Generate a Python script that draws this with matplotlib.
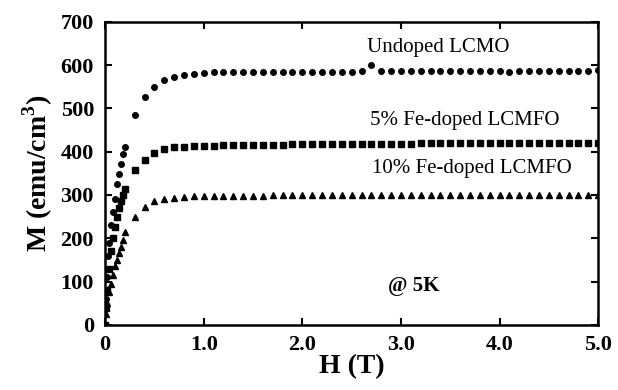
import numpy as np
import matplotlib
matplotlib.use("Agg")
import matplotlib.pyplot as plt

plt.rcParams['font.family'] = ['Liberation Serif', 'DejaVu Serif']

# field grid (T)
H_low_undoped = [0, 0.01, 0.02, 0.03, 0.04, 0.06, 0.08, 0.10, 0.12, 0.14, 0.16, 0.18, 0.20]
H_low = [0, 0.01, 0.02, 0.04, 0.06, 0.08, 0.10, 0.12, 0.14, 0.16, 0.18, 0.20]
H_high = [round(0.3 + 0.1 * i, 1) for i in range(48)]

# magnetisation (emu/cm^3)
M_low_undoped = [0, 60, 110, 160, 190, 230, 260, 290, 326, 349, 372, 395, 411]
M_high_undoped = [485, 526, 550, 566, 573, 577, 580, 582, 583, 583,
                  584, 584, 584, 585, 585, 585, 585, 585, 585, 585,
                  585, 585, 585, 586, 600, 586, 586, 586, 586, 586,
                  586, 586, 586, 586, 586, 586, 586, 586, 583, 586,
                  587, 587, 587, 587, 587, 587, 587, 588]

M_low_5 = [0, 40, 80, 130, 170, 200, 225, 250, 270, 285, 300, 315]
M_high_5 = [357, 381, 398, 406, 410, 412, 413, 414, 414, 415,
            415, 415, 416, 416, 416, 416, 417, 417, 417, 417,
            417, 418, 418, 418, 418, 418, 418, 418, 418, 419,
            419, 419, 419, 419, 419, 419, 419, 420, 420, 420,
            420, 420, 420, 420, 420, 420, 420, 420]

M_low_10 = [0, 25, 50, 75, 95, 115, 135, 150, 165, 180, 197, 215]
M_high_10 = [250, 273, 285, 291, 294, 296, 297, 297, 298, 298,
             298, 298, 298, 298, 299, 299, 299, 299, 299, 299,
             299, 299, 299, 299, 299, 300, 300, 300, 300, 300,
             300, 300, 300, 300, 300, 300, 300, 300, 300, 300,
             300, 300, 300, 300, 300, 300, 300, 301]

fig = plt.figure(figsize=(6.18, 3.9), dpi=100)
ax = fig.add_axes([0.170, 0.167, 0.798, 0.777])

ax.plot(H_low_undoped + H_high, M_low_undoped + M_high_undoped, 'o', color='black', ms=4, ls='none')
ax.plot(H_low + H_high, M_low_5 + M_high_5, 's', color='black', ms=4, ls='none')
ax.plot(H_low + H_high, M_low_10 + M_high_10, '^', color='black', ms=4.5, ls='none')

ax.set_xlim(0, 5.0)
ax.set_ylim(0, 700)
ax.set_xticks([0, 1, 2, 3, 4, 5])
ax.set_xticklabels(['0', '1.0', '2.0', '3.0', '4.0', '5.0'])
ax.set_yticks(range(0, 701, 100))
ax.tick_params(direction='in', top=True, right=True, length=5, width=1.5,
               labelsize=16)
ax.tick_params(axis='y', pad=8)
ax.tick_params(axis='x', pad=7)
for lab in ax.get_xticklabels() + ax.get_yticklabels():
    lab.set_fontweight('bold')
for sp in ax.spines.values():
    sp.set_linewidth(1.8)

ax.set_xlabel('H (T)', fontsize=20, fontweight='bold', labelpad=0)
ax.set_ylabel('M (emu/cm$^\\mathregular{3}$)', fontsize=20, fontweight='bold', labelpad=4)

ax.text(3.38, 640, 'Undoped LCMO', fontsize=15, ha='center', va='center')
ax.text(3.65, 471, '5% Fe-doped LCMFO', fontsize=15, ha='center', va='center')
ax.text(3.72, 362, '10% Fe-doped LCMFO', fontsize=15, ha='center', va='center')
ax.text(3.13, 90, '@ 5K', fontsize=15, fontweight='bold', ha='center', va='center')

fig.savefig('out.png', dpi=100)
